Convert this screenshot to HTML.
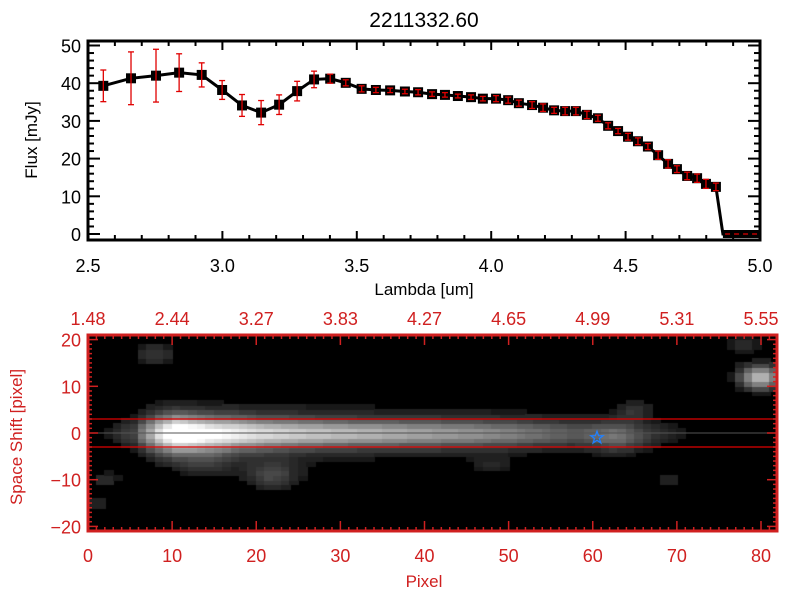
<!DOCTYPE html>
<html><head><meta charset="utf-8"><style>
html,body{margin:0;padding:0;background:#fff;width:800px;height:600px;overflow:hidden}
#wrap{position:relative;width:800px;height:600px}
canvas,svg{position:absolute;left:0;top:0}
text{font-family:"Liberation Sans",sans-serif}
</style></head><body>
<div id="wrap">
<canvas id="hm" width="800" height="600"></canvas>
<svg id="sv" width="800" height="600"></svg>
</div>
<script>
// ---- top chart data ----
const lambdas=[2.557,2.660,2.753,2.839,2.923,2.999,3.073,3.144,3.211,3.278,3.341,3.401,3.459,3.518,3.571,3.624,3.679,3.728,3.780,3.828,3.876,3.925,3.969,4.018,4.063,4.103,4.152,4.193,4.234,4.275,4.315,4.356,4.397,4.435,4.472,4.509,4.546,4.583,4.621,4.658,4.691,4.729,4.766,4.799,4.836,4.862,5.0];
const fluxes=[39.3,41.3,42.0,42.8,42.2,38.2,34.1,32.2,34.3,37.9,41.0,41.2,40.1,38.5,38.2,38.1,37.8,37.6,37.1,36.9,36.6,36.3,35.9,35.9,35.5,34.7,34.2,33.5,32.8,32.6,32.6,31.6,30.7,28.7,27.3,25.8,24.6,23.2,20.9,18.6,17.2,15.4,14.8,13.3,12.5,0,0];
const errors=[4.2,7,7,5,3.2,2.5,2.9,3.2,2.6,2.6,2.2,1.2,0.8,0.8,0.7,0.6,0.6,0.7,0.6,0.6,0.5,0.6,0.6,0.8,0.8,0.8,0.9,1.0,0.8,1.0,1.0,1.0,0.8,0.8,0.7,0.9,0.9,0.8,1.1,1.1,0.9,1.0,1.1,1.2,1.0,0,0];
const xTicksTop=["2.5","3.0","3.5","4.0","4.5","5.0"];
const yTicksTop=["0","10","20","30","40","50"];
// ---- bottom image data ----
const pixTicks=["0","10","20","30","40","50","60","70","80"];
const lamTicksBottom=["1.48","2.44","3.27","3.83","4.27","4.65","4.99","5.31","5.55"];
const shiftTicks=["-20","-10","0","10","20"];
// trace peak brightness every 5 columns starting at col 0
const traceBright=[0,50,245,200,165,150,140,130,120,110,95,75,55,35,20,8,0];
const traceWidth=[2,2.2,2.6,2.3,2.1,2.0,1.9,1.9,1.9,1.9,1.9,1.9,1.9,1.9,1.9,1.9,1.9];
// blobs: column, shift, amplitude, sigma
const blobCol=[8,22,80,63,65,69,2,1,14,78,48];
const blobShift=[17,-9,12,-1,5,-10,-10,-15,-6,19,-7];
const blobAmp=[55,65,190,60,45,40,40,40,40,45,30];
const blobSig=[1.8,2.3,1.8,2.3,1.5,1,1.5,1,2.5,1.5,1.5];
const starPix=60.5, starShift=-1;

const NS="http://www.w3.org/2000/svg";
const sv=document.getElementById('sv');
function el(tag,attrs,parent){const e=document.createElementNS(NS,tag);for(const k in attrs)e.setAttribute(k,attrs[k]);(parent||sv).appendChild(e);return e;}

// ---- top chart scales ----
const TL=88,TR=760,TT=41,TB=240;
const tx=l=>TL+(l-2.5)/2.5*(TR-TL);
const ty=v=>234-v*3.77;
const gTop=el('g',{});
let t=el('text',{x:424,y:27,'text-anchor':'middle','font-size':21,fill:'#000'});
t.textContent='2211332.60';
for(let i=0;i<=25;i++){const x=tx(2.5+i*0.1);const L=i%5==0?9:5;
 el('line',{x1:x,y1:TB,x2:x,y2:TB-L,stroke:'#000','stroke-width':2},gTop);
 el('line',{x1:x,y1:TT,x2:x,y2:TT+L,stroke:'#000','stroke-width':2},gTop);}
xTicksTop.forEach((s,i)=>{const e=el('text',{x:tx(2.5+i*0.5),y:272,'text-anchor':'middle','font-size':18,fill:'#000'},gTop);
 e.textContent=s;});
for(let v=-2;v<=51;v+=2){const y=ty(v);if(y<TT||y>TB)continue;const L=v%10==0?12:6;
 el('line',{x1:TL,y1:y,x2:TL+L,y2:y,stroke:'#000','stroke-width':2},gTop);
 el('line',{x1:TR,y1:y,x2:TR-L,y2:y,stroke:'#000','stroke-width':2},gTop);}
yTicksTop.forEach((s,i)=>{const e=el('text',{x:81,y:ty(i*10)+7,'text-anchor':'end','font-size':18,fill:'#000'},gTop);
 e.textContent=s;});
t=el('text',{x:424,y:295,'text-anchor':'middle','font-size':17,fill:'#000'},gTop);t.textContent='Lambda [um]';
t=el('text',{x:0,y:0,'text-anchor':'middle','font-size':17,fill:'#000',transform:'translate(37,140) rotate(-90)'},gTop);t.textContent='Flux [mJy]';
let pts=lambdas.map((l,i)=>tx(l)+','+ty(fluxes[i])).join(' ');
const pl=el('polyline',{points:pts,fill:'none',stroke:'#000','stroke-width':3},gTop);

lambdas.forEach((l,i)=>{if(fluxes[i]<=0)return;const x=tx(l),y=ty(fluxes[i]);
 const r=el('rect',{x:x-5,y:y-5,width:10,height:10,fill:'#000'},gTop);
 });
lambdas.forEach((l,i)=>{if(fluxes[i]<=0)return;const x=tx(l),y1=ty(fluxes[i]+errors[i]),y2=ty(fluxes[i]-errors[i]);
 const g=el('g',{stroke:'#e00000','stroke-width':1.3},gTop);
 el('line',{x1:x,y1:y1,x2:x,y2:y2},g);el('line',{x1:x-3,y1:y1,x2:x+3,y2:y1},g);el('line',{x1:x-3,y1:y2,x2:x+3,y2:y2},g);});
el('rect',{x:tx(4.862),y:ty(0)-4,width:TR-tx(4.862),height:8,fill:'#000'},gTop);
t=el('line',{x1:tx(4.87),y1:ty(0),x2:TR,y2:ty(0),stroke:'#e00000','stroke-width':1.3,'stroke-dasharray':'5,4'},gTop);

el('rect',{x:TL,y:TT,width:TR-TL,height:TB-TT,fill:'none',stroke:'#000','stroke-width':3},gTop);

// ---- bottom image ----
const BL=88,BR=777,BT=335,BB=531;
const pxs=p=>BL+p*(761-BL)/80;
const sy=s=>433-s*4.67;
const ctx=document.getElementById('hm').getContext('2d');
ctx.fillStyle='#000';ctx.fillRect(BL,BT,BR-BL,BB-BT);
const cw=(761-BL)/80,ch=4.67;
for(let c=0;c<82;c++){for(let r=-21;r<21;r++){
 const s=r+0.5;
 const k=c/5,i0=Math.min(Math.floor(k),traceBright.length-2),f=k-i0;
 const tb=traceBright[i0]*(1-f)+traceBright[i0+1]*f;
 const tw=traceWidth[i0]*(1-f)+traceWidth[i0+1]*f;
 let v=tb*Math.exp(-s*s/(2*tw*tw));
 v+=Math.min(60,tb*0.35)*Math.exp(-s*s/(2*20));
 for(let b=0;b<blobCol.length;b++){const dx=c+0.5-blobCol[b],dy=s-blobShift[b];v+=blobAmp[b]*Math.exp(-(dx*dx+dy*dy)/(2*blobSig[b]*blobSig[b]));}
 if(v<24)continue;v=Math.min(255,Math.round(v/8)*8);
 ctx.fillStyle=`rgb(${v},${v},${v})`;
 const x=pxs(c),y=sy(r+1);ctx.fillRect(Math.floor(x),Math.floor(y),Math.ceil(cw)+1,Math.ceil(ch)+1);}}
ctx.fillStyle='#fff';ctx.fillRect(BR,BT-3,23,BB-BT+6);
const gB=el('g',{});
const RED='#d02020';
t=el('line',{x1:BL,y1:sy(3),x2:BR,y2:sy(3),stroke:'#e00000','stroke-width':1.3},gB);
t=el('line',{x1:BL,y1:sy(-3),x2:BR,y2:sy(-3),stroke:'#e00000','stroke-width':1.3},gB);
t=el('line',{x1:BL,y1:sy(0),x2:BR,y2:sy(0),stroke:'#555','stroke-width':1},gB);
(function(){const cx=pxs(starPix),cy=sy(starShift);let p=[];for(let i=0;i<10;i++){const a=-Math.PI/2+i*Math.PI/5,r=i%2?2.6:6.5;p.push((cx+r*Math.cos(a)).toFixed(1)+','+(cy+r*Math.sin(a)).toFixed(1));}
 const s=el('polygon',{points:p.join(' '),fill:'none',stroke:'#2080ff','stroke-width':1.3},gB);})();
for(let p=0;p<=81;p++){const x=pxs(p);const L=p%10==0?10:4;
 el('line',{x1:x,y1:BB,x2:x,y2:BB-L,stroke:RED,'stroke-width':1.5},gB);
 el('line',{x1:x,y1:BT,x2:x,y2:BT+L,stroke:RED,'stroke-width':1.5},gB);}
for(let s=-21;s<=21;s++){const y=sy(s);const L=s%10==0?10:4;
 el('line',{x1:BL,y1:y,x2:BL+L,y2:y,stroke:RED,'stroke-width':1.5},gB);
 el('line',{x1:BR,y1:y,x2:BR-L,y2:y,stroke:RED,'stroke-width':1.5},gB);}
el('rect',{x:BL,y:BT,width:BR-BL,height:BB-BT,fill:'none',stroke:RED,'stroke-width':3},gB);
pixTicks.forEach((s,i)=>{const e=el('text',{x:pxs(i*10),y:562,'text-anchor':'middle','font-size':18,fill:RED},gB);e.textContent=s;});
lamTicksBottom.forEach((s,i)=>{const e=el('text',{x:pxs(i*10),y:325,'text-anchor':'middle','font-size':18,fill:RED},gB);e.textContent=s;});
shiftTicks.forEach((s,i)=>{const e=el('text',{x:81,y:sy(-20+i*10)+7,'text-anchor':'end','font-size':18,fill:RED},gB);e.textContent=s.replace('-','\u2212');});
t=el('text',{x:424,y:587,'text-anchor':'middle','font-size':17,fill:RED},gB);t.textContent='Pixel';
t=el('text',{x:0,y:0,'text-anchor':'middle','font-size':17,fill:RED,transform:'translate(22,437) rotate(-90)'},gB);t.textContent='Space Shift [pixel]';
</script>
</body></html>
